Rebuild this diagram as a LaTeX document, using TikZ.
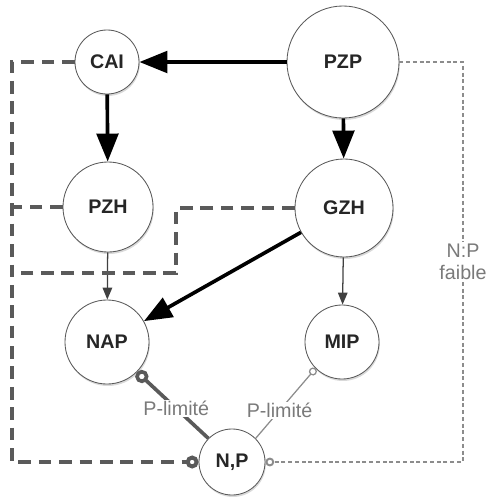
\documentclass[tikz,border=0pt]{standalone}
\usepackage{fontspec}
\setmainfont{Liberation Sans}
\usetikzlibrary{arrows.meta,shadows}

\definecolor{dashgray}{HTML}{5A5A5A}
\definecolor{dotgray}{HTML}{8C8C8C}
\definecolor{labgray}{HTML}{7A7A7A}

\begin{document}
\begin{tikzpicture}[x=0.025cm,y=-0.025cm,
 ele/.style={circle,draw=black!65,line width=0.6pt,fill=white,inner sep=0pt,
   font=\fontsize{14}{16}\selectfont\bfseries,text=black!85,
   drop shadow={opacity=0.3,shadow xshift=0.6pt,shadow yshift=-1.4pt}},
 big/.style={-{Triangle[length=7mm,width=5.4mm]},line width=2.6pt},
 lite/.style={-{Triangle[length=3mm,width=2.4mm]},line width=0.9pt,black!75},
 nut/.style={dashgray,line width=2.8pt,dash pattern=on 9pt off 5.5pt},
 weak/.style={dotgray,line width=1.4pt,dash pattern=on 2.8pt off 2pt},
 lab/.style={fill=white,inner sep=1pt,text=labgray,
   font=\fontsize{14}{16}\selectfont}]

	\useasboundingbox (0,0) rectangle (488,502);

	\node[ele,minimum size=1.6cm] (cai) at (107,62) {CAI};
	\node[ele,minimum size=2.8cm] (pzp) at (343,62) {PZP};
	\node[ele,minimum size=2.25cm] (pzh) at (108,207) {PZH};
	\node[ele,minimum size=2.45cm] (gzh) at (344,208) {GZH};
	\node[ele,minimum size=2.1cm] (nap) at (107,342) {NAP};
	\node[ele,minimum size=1.85cm] (mip) at (342,342) {MIP};
	\node[ele,minimum size=1.65cm] (np) at (232,462) {N,P};

	\coordinate (l1) at (12,62);
	\coordinate (l2) at (12,462);
	\coordinate (l3) at (12,273);
	\coordinate (lp) at (12,207);
	\coordinate (m1) at (176,208);
	\coordinate (m2) at (176,273);
	\coordinate (r1) at (463,62);
	\coordinate (r2) at (463,462);

	\draw[big] (pzp) -- (cai);
	\draw[big] (cai) -- (pzh);
	\draw[big] (pzp) -- (gzh);
	\draw[big] (gzh) -- (nap);
	\draw[lite] (pzh) -- (nap);
	\draw[lite] (gzh) -- (mip);

	\draw[nut,-{Circle[open,length=3.2mm]}] (cai.west) -- (l1) -- (l2) -- (np.west);
	\draw[nut] (pzh.west) -- (lp);
	\draw[nut] (gzh.west) -- (m1) -- (m2) -- (l3);
	\draw[weak,-{Circle[open,length=2.2mm]}] (pzp.east) -- (r1)
		-- node[lab,align=center,pos=0.5] {N:P\\faible} (r2) -- (np.east);

	\draw[dashgray,line width=2.6pt,{Circle[open,length=3.3mm]}-] (nap.-45)
		-- node[lab,pos=0.55] {P-limité} (np.135);
	\draw[dotgray,line width=0.9pt,{Circle[open,length=2mm]}-] (mip.-135)
		-- node[lab,pos=0.6] {P-limité} (np.45);
 	\end{tikzpicture}
\end{document}
